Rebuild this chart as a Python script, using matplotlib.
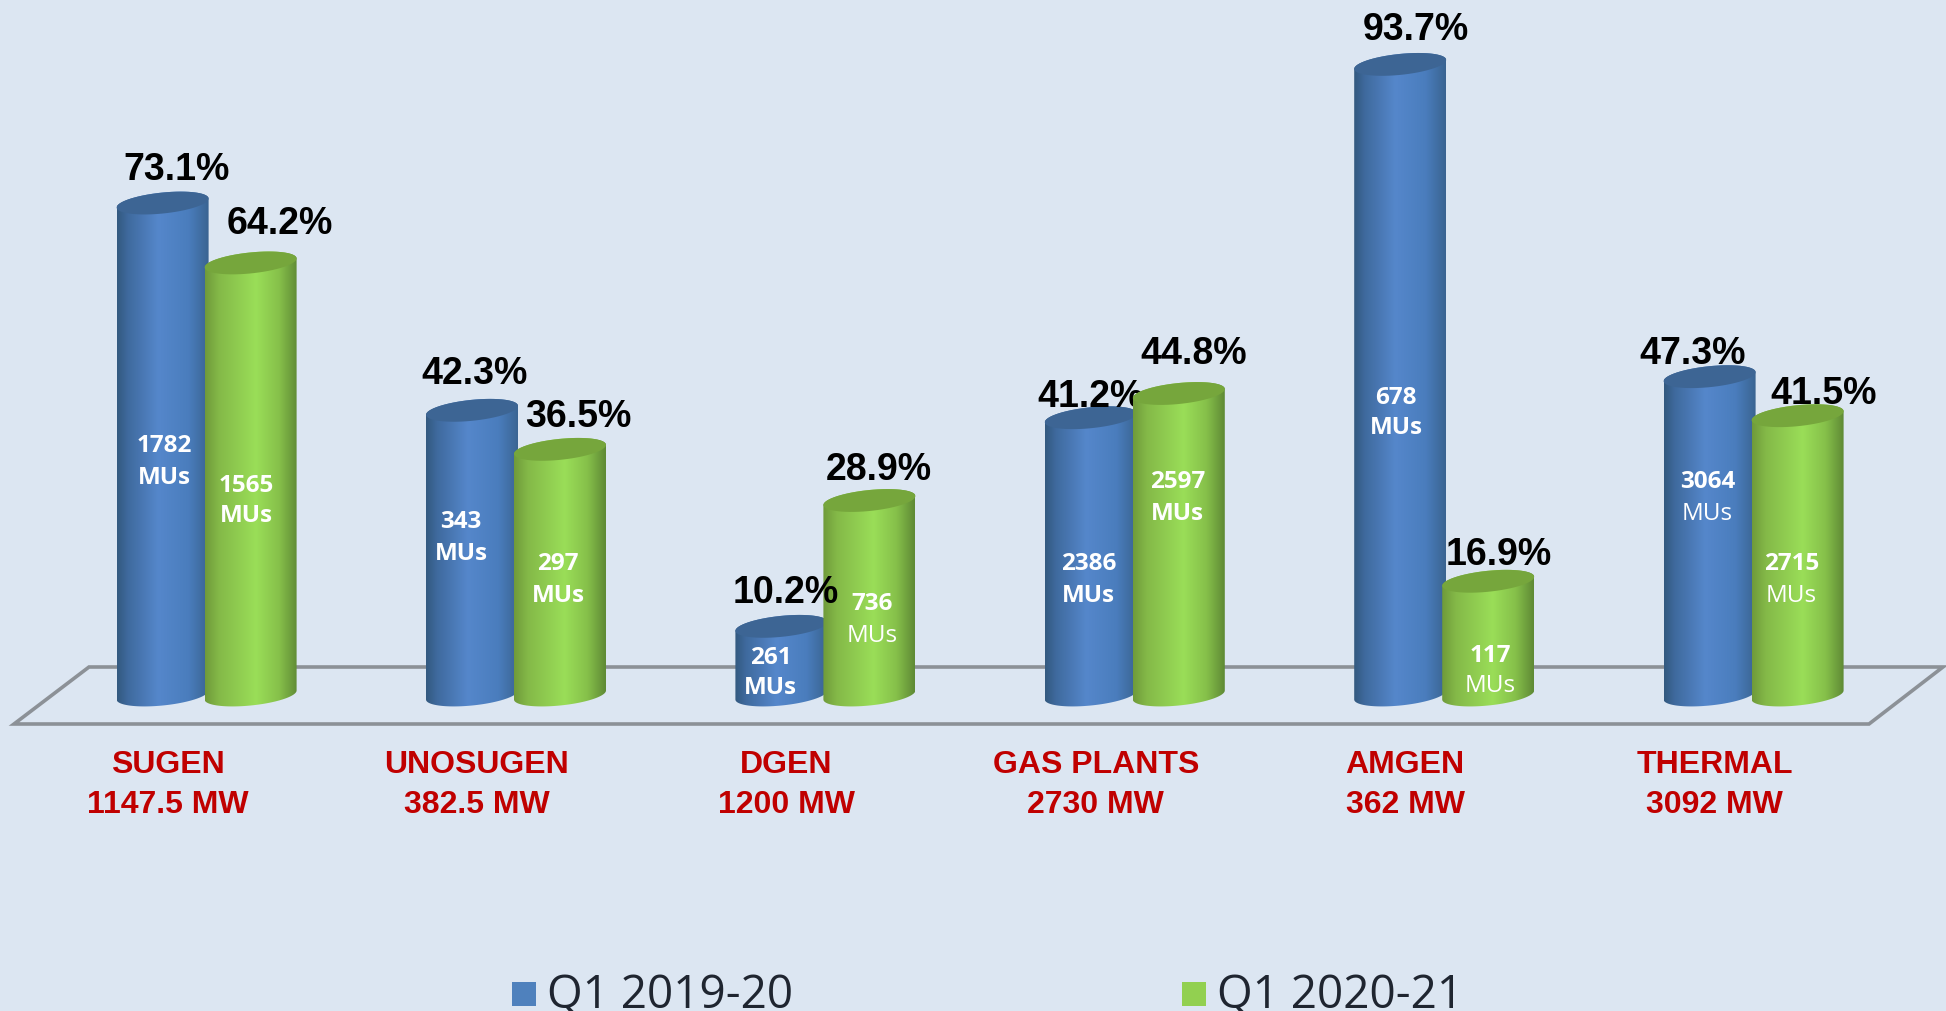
import numpy as np
import matplotlib
matplotlib.use("Agg")
import matplotlib.pyplot as plt
from matplotlib.patches import PathPatch, Rectangle, Polygon
from matplotlib.path import Path
from matplotlib.colors import LinearSegmentedColormap

categories = ["SUGEN", "UNOSUGEN", "DGEN", "GAS PLANTS", "AMGEN", "THERMAL"]
capacity = ["1147.5 MW", "382.5 MW", "1200 MW", "2730 MW", "362 MW", "3092 MW"]
series_names = ["Q1 2019-20", "Q1 2020-21"]
plf_2019 = [73.1, 42.3, 10.2, 41.2, 93.7, 47.3]
plf_2020 = [64.2, 36.5, 28.9, 44.8, 16.9, 41.5]
mus_2019 = [1782, 343, 261, 2386, 678, 3064]
mus_2020 = [1565, 297, 736, 2597, 117, 2715]

W, H = 1946, 1011
BASE_PX, PX_PER = 695.0, 6.73
X0_PX, STEP_PX = 206.6, 309.4
LABEL_FONT = ["Liberation Sans", "DejaVu Sans"]
BODY_FONT = ["Open Sans", "DejaVu Sans"]

fig = plt.figure(figsize=(W / 100, H / 100), dpi=100, facecolor="#dce6f2")
ax = fig.add_axes([0, 0, 1, 1])
ax.axis("off")

ux = 1 / STEP_PX
uy = 1 / PX_PER


def X(px):
    return (px - X0_PX) * ux


def Y(px):
    return (BASE_PX - px) * uy


# floor
ax.add_patch(Polygon([(X(14), Y(724)), (X(1869), Y(724)), (X(1943), Y(667)), (X(89), Y(667))],
                     closed=True, fill=False, ec="#8c9197", lw=2.6, zorder=1))

blue_cm = LinearSegmentedColormap.from_list("b", [(0, "#33597f"), (.12, "#3f6a9e"), (.45, "#5587cb"),
                                                  (.78, "#4a7dbd"), (1, "#3a6491")])
green_cm = LinearSegmentedColormap.from_list("g", [(0, "#6f9a3a"), (.15, "#84b948"), (.55, "#9ade58"),
                                                   (.8, "#86c04a"), (1, "#5f8a35")])
OFF = 44 * ux
A = 46 * ux
B = 10.5 * uy
TILT = 4.5 * uy


def ell(xc, yc, a0, a1, n=60):
    t = np.linspace(a0, a1, n)
    return np.c_[xc + A * np.cos(t), yc + B * np.sin(t) + TILT * np.cos(t)]


def cylinder(xc, v, cm, top_color, z):
    front = ell(xc, 0.0, np.pi, 2 * np.pi)
    back = ell(xc, v, 0, np.pi)
    verts = np.vstack([front, back, front[:1]])
    codes = [Path.MOVETO] + [Path.LINETO] * (len(verts) - 2) + [Path.CLOSEPOLY]
    clip = PathPatch(Path(verts, codes), fc="none", ec="none", transform=ax.transData)
    ax.add_patch(clip)
    im = ax.imshow(np.linspace(0, 1, 256)[None, :], cmap=cm, aspect="auto", zorder=z,
                   extent=[xc - A, xc + A, -3, v + 3], interpolation="bilinear")
    im.set_clip_path(clip)
    ax.add_patch(Polygon(ell(xc, v, 0, 2 * np.pi), closed=True, fc=top_color, ec="none", zorder=z + .1))


for i in range(len(categories)):
    cylinder(i - OFF, plf_2019[i], blue_cm, "#3d6594", 2 + i)
    cylinder(i + OFF, plf_2020[i], green_cm, "#76a63c", 2.5 + i)

ax.set_xlim(X(0), X(W))
ax.set_ylim(Y(H), Y(0))

# label layout (pixels)
pct_dx = [[14, 3, 4, 0, 16, -17], [29, 18, 9, 15, 11, 26]]
pct_dy = [[33, 36, 33, 21, 34, 23], [39, 32, 31, 39, 26, 22]]
pct_behind = [[0, 0, 0, 1, 0, 0], [0, 0, 0, 0, 1, 1]]
mus_dx = [[2, -11, -11, -2, -4, -2], [-4, -2, 3, -1, 2, -6]]
mus_y_px = [[462, 538, 673, 580, 413, 498], [501, 580, 620, 498, 671, 580]]
unit_bold = [[1, 1, 1, 1, 1, 0], [1, 1, 0, 1, 0, 0]]

for s, (vals, mus) in enumerate([(plf_2019, mus_2019), (plf_2020, mus_2020)]):
    for i, (v, m) in enumerate(zip(vals, mus)):
        xc = i + (-OFF if s == 0 else OFF)
        z = (2.45 + i) if pct_behind[s][i] else 30
        ax.annotate(f"{v}%", (xc, v), xytext=(pct_dx[s][i], pct_dy[s][i]),
                    textcoords="offset pixels", ha="center", va="center",
                    fontsize=27, fontweight="bold", family=LABEL_FONT, color="black", zorder=z)
        xt = xc + mus_dx[s][i] * ux
        ym = mus_y_px[s][i]
        ax.text(xt, Y(ym - 15.5), str(m), ha="center", va="center", fontsize=17.5, fontweight="bold",
                family=BODY_FONT, color="white", zorder=30)
        ax.text(xt, Y(ym + 15.5), "MUs", ha="center", va="center", fontsize=17.5,
                fontweight="bold" if unit_bold[s][i] else "normal",
                family=BODY_FONT, color="white", zorder=30)

for i, (c, p) in enumerate(zip(categories, capacity)):
    xt = i - 39 * ux
    ax.text(xt, Y(765), c, ha="center", va="center", fontsize=23, fontweight="bold",
            family=LABEL_FONT, color="#c00000", zorder=30)
    ax.text(xt, Y(805), p, ha="center", va="center", fontsize=23, fontweight="bold",
            family=LABEL_FONT, color="#c00000", zorder=30)

for px, name, col in [(512, series_names[0], "#4f81bd"), (1182, series_names[1], "#92d050")]:
    ax.add_patch(Rectangle((X(px), Y(1006)), 24 * ux, 24 * uy, fc=col, ec="none", zorder=30))
    ax.text(X(px + 35), Y(1008), name, ha="left", va="baseline",
            fontsize=33, family=BODY_FONT, color="#1f2530", zorder=30)

fig.savefig("out.png", dpi=100, facecolor=fig.get_facecolor())
